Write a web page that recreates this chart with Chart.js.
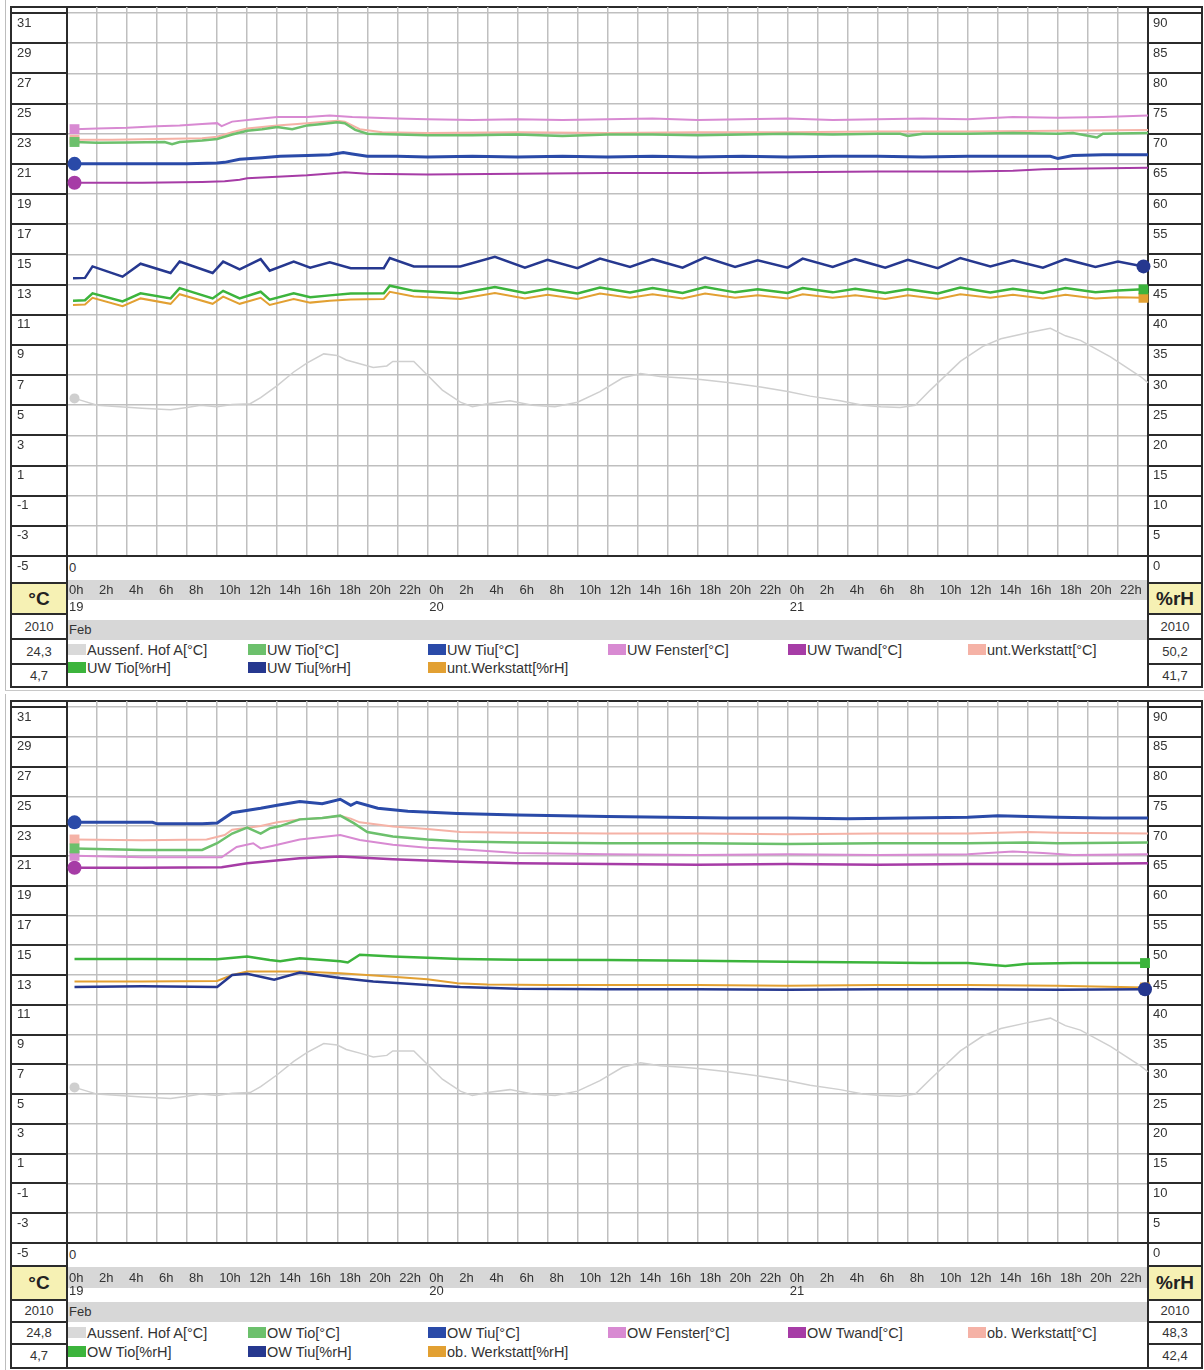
<!DOCTYPE html>
<html>
<head>
<meta charset="utf-8">
<script src="https://cdn.jsdelivr.net/npm/chart.js@4.4.1/dist/chart.umd.min.js"></script>
<style>
  body { margin: 0; background: #fff; font-family: "Liberation Sans", Arial, sans-serif; color: #333; }
  canvas { position: absolute; left: 0; }
</style>
</head>
<body>
<script>
// axis ticks
const hourTicks = [0, 2, 4, 6, 8, 10, 12, 14, 16, 18, 20, 22, 24, 26, 28, 30, 32, 34, 36, 38, 40, 42, 44, 46, 48, 50, 52, 54, 56, 58, 60, 62, 64, 66, 68, 70, 72];
const dayLabels = ['19', '20', '21'];
const tempTicks = [-5, -3, -1, 1, 3, 5, 7, 9, 11, 13, 15, 17, 19, 21, 23, 25, 27, 29, 31];
const rhTicks = [0, 5, 10, 15, 20, 25, 30, 35, 40, 45, 50, 55, 60, 65, 70, 75, 80, 85, 90];

// outdoor sensor (same in both panels), hours since 19 Feb 0h
const aussenH = [0.5, 1, 2, 3.5, 5, 6.9, 8, 8.9, 10, 11, 12.2, 12.9, 14, 15.1, 16, 17.1, 18, 18.6, 19.5, 20.4, 21.3, 21.7, 23.1, 24, 25, 26.2, 27, 28, 29.5, 31, 32.5, 34, 35.5, 37, 38.2, 39.5, 41, 42.2, 44, 46.2, 48, 49.5, 51.5, 53, 54.2, 55.5, 56.5, 57.5, 59.5, 61, 62.2, 64, 65.5, 66.5, 67.5, 69.5, 71.5, 72];
const aussenV = [5.45, 5.3, 5.0, 4.9, 4.8, 4.7, 4.85, 5.0, 4.9, 5.05, 5.1, 5.5, 6.3, 7.2, 7.8, 8.4, 8.3, 8.0, 7.75, 7.5, 7.6, 7.9, 7.9, 7.0, 6.0, 5.2, 4.9, 5.1, 5.3, 5.0, 4.9, 5.2, 5.9, 6.8, 7.1, 6.9, 6.8, 6.7, 6.5, 6.2, 5.9, 5.6, 5.3, 5.0, 4.9, 4.85, 5.0, 6.0, 7.9, 8.9, 9.4, 9.8, 10.1, 9.6, 9.3, 8.2, 6.9, 6.5];

// upper chart (UW / unt. Werkstatt)
const uwTioTH = [0.5, 2, 4, 6.5, 7, 7.5, 9, 10, 11, 12, 13, 14, 15, 16, 17, 18, 18.5, 19.2, 20, 22, 24, 27, 30, 33, 36, 39, 42, 45, 48, 51, 54, 55.5, 56, 57, 60, 63, 66, 67, 68.6, 69, 72];
const uwTioTV = [22.45, 22.4, 22.42, 22.45, 22.3, 22.45, 22.55, 22.65, 22.95, 23.2, 23.3, 23.45, 23.3, 23.55, 23.65, 23.75, 23.7, 23.25, 23.0, 22.95, 22.9, 22.9, 22.95, 22.85, 22.95, 22.95, 22.9, 22.95, 23.0, 22.95, 23.0, 23.0, 22.85, 23.0, 23.0, 23.05, 23.0, 23.05, 22.75, 23.0, 23.05];
const uwTiuTH = [0.5, 4, 8, 10, 10.5, 11.5, 13, 14.2, 16, 17.5, 18.4, 19, 20, 22, 24, 27, 30, 33, 36, 39, 42, 45, 48, 51, 54, 57, 60, 63, 65.5, 66, 67, 69, 72];
const uwTiuTV = [21.0, 21.0, 21.0, 21.05, 21.1, 21.3, 21.4, 21.5, 21.55, 21.6, 21.75, 21.65, 21.5, 21.5, 21.45, 21.5, 21.45, 21.5, 21.45, 21.5, 21.45, 21.5, 21.45, 21.5, 21.5, 21.45, 21.5, 21.5, 21.5, 21.35, 21.55, 21.6, 21.6];
const uwFensterH = [0.5, 2, 4, 6, 7.5, 9, 10, 10.3, 11, 12.5, 14, 16, 17.5, 19, 20.5, 22, 24, 27, 30, 33, 36, 39, 42, 45, 48, 51, 54, 57, 60, 63, 66, 69, 72];
const uwFensterV = [23.3, 23.35, 23.4, 23.5, 23.55, 23.65, 23.7, 23.5, 23.8, 23.95, 24.1, 24.1, 24.2, 24.1, 24.05, 24.0, 23.95, 23.9, 23.95, 23.9, 23.95, 24.0, 23.9, 23.95, 24.0, 23.9, 23.95, 24.0, 23.95, 24.1, 24.05, 24.1, 24.2];
const uwTwandH = [0.5, 5, 9, 10.5, 11.5, 12, 14, 16, 18, 18.5, 20, 24, 30, 36, 42, 48, 54, 60, 63, 65, 68, 72];
const uwTwandV = [19.75, 19.75, 19.8, 19.85, 19.95, 20.05, 20.15, 20.25, 20.4, 20.45, 20.35, 20.3, 20.35, 20.4, 20.4, 20.45, 20.5, 20.5, 20.55, 20.65, 20.7, 20.75];
const untWerkTH = [0.5, 3, 6, 9, 10, 11, 12, 14, 16, 18, 18.5, 19.5, 21, 24, 30, 36, 42, 48, 54, 60, 66, 72];
const untWerkTV = [22.6, 22.6, 22.65, 22.7, 22.8, 23.1, 23.35, 23.55, 23.7, 23.85, 23.8, 23.3, 23.1, 23.05, 23.1, 23.05, 23.1, 23.1, 23.15, 23.15, 23.2, 23.25];
const uwRhH = [0.4, 1.2, 1.7, 3.7, 4.9, 6.9, 7.5, 9.7, 10.4, 11.5, 12.9, 13.5, 15.1, 16.2, 17.5, 18.9, 21.1, 21.5, 23.1, 26.2, 28.5, 30.5, 32, 34, 35.5, 37.5, 39, 41, 42.5, 44.5, 46, 48, 49, 51, 52.5, 54.5, 56, 58, 59.5, 61.5, 63, 65, 66.5, 68.5, 70, 71.7];
const uwTiuRhV = [46.05, 46.1, 48.0, 46.3, 48.45, 46.9, 48.8, 46.9, 48.8, 47.5, 49.2, 47.3, 48.8, 47.8, 48.7, 47.7, 47.7, 49.4, 48.0, 48.0, 49.6, 47.8, 49.1, 47.7, 49.3, 47.9, 49.2, 47.8, 49.5, 47.9, 49.0, 47.8, 49.3, 47.9, 49.2, 47.8, 49.1, 47.7, 49.4, 48.0, 49.0, 47.8, 49.2, 47.9, 48.8, 48.0];
const uwTioRhV = [42.3, 42.4, 43.55, 42.2, 43.55, 42.7, 44.4, 42.7, 43.95, 42.7, 43.8, 42.5, 43.55, 42.9, 43.2, 43.5, 43.55, 44.8, 43.95, 43.55, 44.6, 43.6, 44.3, 43.5, 44.5, 43.7, 44.4, 43.6, 44.6, 43.7, 44.2, 43.6, 44.4, 43.7, 44.3, 43.6, 44.2, 43.5, 44.5, 43.7, 44.3, 43.6, 44.4, 43.7, 44.0, 44.2];
const untWerkRhV = [41.6, 41.7, 42.8, 41.4, 42.7, 41.8, 43.4, 41.8, 43.0, 41.8, 42.8, 41.6, 42.6, 42.0, 42.3, 42.5, 42.6, 43.8, 43.0, 42.6, 43.6, 42.7, 43.3, 42.6, 43.5, 42.8, 43.4, 42.7, 43.5, 42.8, 43.2, 42.7, 43.4, 42.8, 43.2, 42.6, 43.2, 42.6, 43.4, 42.8, 43.3, 42.7, 43.3, 42.7, 42.9, 42.8];

// lower chart (OW / ob. Werkstatt)
const owTioTH = [0.5, 5, 9, 10, 11, 12, 12.9, 13.5, 14.2, 15.5, 17, 18.2, 19.1, 20, 21.7, 24, 26.2, 30, 36, 42, 48, 54, 60, 64, 66, 72];
const owTioTV = [21.5, 21.4, 21.4, 21.85, 22.5, 22.9, 22.5, 22.85, 23.0, 23.45, 23.55, 23.7, 23.2, 22.6, 22.3, 22.1, 21.96, 21.9, 21.85, 21.85, 21.8, 21.85, 21.85, 21.9, 21.85, 21.9];
const owTiuTH = [0.5, 3, 5.7, 6, 9, 10, 11, 12.9, 14, 15.5, 17, 18.2, 18.9, 19.3, 20.7, 22.7, 26, 30, 33, 36, 40, 44, 48, 52, 56, 60, 62, 64, 66, 69, 72];
const owTiuTV = [23.25, 23.25, 23.25, 23.15, 23.15, 23.2, 23.9, 24.2, 24.4, 24.65, 24.5, 24.8, 24.4, 24.6, 24.2, 24.0, 23.85, 23.75, 23.7, 23.65, 23.6, 23.55, 23.55, 23.5, 23.55, 23.6, 23.7, 23.65, 23.6, 23.55, 23.55];
const owFensterH = [0.5, 5, 10.3, 11.3, 12.4, 12.9, 13.8, 15.5, 18.2, 19.5, 21.7, 24, 26.2, 30, 36, 42, 48, 54, 60, 63, 65, 67, 72];
const owFensterV = [21.0, 20.9, 20.9, 21.6, 21.85, 21.5, 21.7, 22.1, 22.4, 22.07, 21.74, 21.55, 21.45, 21.2, 21.1, 21.05, 21.1, 21.05, 21.1, 21.3, 21.2, 21.05, 21.1];
const owTwandH = [0.5, 5, 10.3, 12, 15.5, 18.2, 21.7, 26.2, 30, 36, 42, 48, 54, 60, 66, 72];
const owTwandV = [20.2, 20.2, 20.24, 20.5, 20.84, 20.95, 20.77, 20.6, 20.5, 20.45, 20.4, 20.45, 20.4, 20.45, 20.45, 20.5];
const obWerkTH = [0.5, 5, 9.3, 10.5, 11, 12.9, 14, 15.5, 17, 18.2, 18.9, 19.5, 21.7, 24, 26.2, 30, 36, 42, 48, 54, 60, 64, 66, 72];
const obWerkTV = [22.1, 22.05, 22.1, 22.4, 22.75, 23.0, 23.25, 23.45, 23.55, 23.7, 23.5, 23.25, 22.97, 22.8, 22.6, 22.55, 22.5, 22.5, 22.45, 22.5, 22.5, 22.6, 22.55, 22.5];
const owTioRhH = [0.5, 5, 10, 12, 13.5, 14.2, 15.5, 18.2, 18.7, 19.5, 21.7, 24, 26.2, 30, 36, 42, 48, 54, 57, 60, 62.5, 64, 67, 71.8];
const owTioRhV = [47.7, 47.7, 47.65, 48.1, 47.5, 47.3, 47.8, 47.3, 47.1, 48.4, 48.1, 47.9, 47.7, 47.55, 47.5, 47.4, 47.2, 47.1, 47.0, 47.0, 46.5, 46.9, 47.0, 47.0];
const owTiuRhH = [0.5, 5, 10, 11, 12, 13.8, 15.5, 18.2, 20.4, 24, 26.2, 30, 36, 42, 48, 54, 60, 66, 71.8];
const owTiuRhV = [43.0, 43.1, 43.0, 45.0, 45.2, 44.2, 45.4, 44.5, 43.9, 43.3, 43.0, 42.7, 42.6, 42.6, 42.5, 42.6, 42.6, 42.5, 42.6];
const obWerkRhH = [0.5, 5, 10, 11, 12, 15.5, 18.2, 21.7, 24, 26, 28, 32, 36, 42, 48, 54, 60, 66, 71.8];
const obWerkRhV = [43.9, 43.9, 44.0, 45.0, 45.6, 45.6, 45.3, 44.7, 44.3, 43.6, 43.4, 43.3, 43.3, 43.3, 43.2, 43.3, 43.3, 43.2, 42.9];

const colors = {
  aussen: '#cfcfcf', tioT: '#6cc06c', tiuT: '#2a4aa8', fenster: '#d88ad2', twand: '#a63ca6',
  werkT: '#f5b2a6', tioRh: '#3cb43c', tiuRh: '#26388f', werkRh: '#e2a032'
};

function series(name, hours, values, axis, color, shape, mark, width) {
  return { name, hours, values, axis, color, shape, mark, width };
}

const panels = [
  {
    top: 7, bottom: 556, frameBottom: 687, zeroY: 568, hourBand: [580, 600], hourY: 590, lineH: 17,
    monthBand: [620, 640], sep: [583, 614, 639, 664], legendY: [650, 668],
    cells: ['24,3', '4,7', '50,2', '41,7'],
    series: [
      series('Aussenf. Hof A[°C]', aussenH, aussenV, 'y', colors.aussen, 'circle', 5, 1.5),
      series('UW Tio[°C]', uwTioTH, uwTioTV, 'y', colors.tioT, 'rect', 7, 2.5),
      series('UW Tiu[°C]', uwTiuTH, uwTiuTV, 'y', colors.tiuT, 'circle', 7, 3),
      series('UW Fenster[°C]', uwFensterH, uwFensterV, 'y', colors.fenster, 'rect', 7, 2),
      series('UW Twand[°C]', uwTwandH, uwTwandV, 'y', colors.twand, 'circle', 7, 2),
      series('unt.Werkstatt[°C]', untWerkTH, untWerkTV, 'y', colors.werkT, 'rect', 7, 2),
      series('UW Tio[%rH]', uwRhH, uwTioRhV, 'rh', colors.tioRh, 'rect', 7, 2.5),
      series('UW Tiu[%rH]', uwRhH, uwTiuRhV, 'rh', colors.tiuRh, 'circle', 7, 2.5),
      series('unt.Werkstatt[%rH]', uwRhH, untWerkRhV, 'rh', colors.werkRh, 'rect', 7, 2)
    ]
  },
  {
    top: 701, bottom: 1243, frameBottom: 1368, zeroY: 1255, hourBand: [1267, 1288], hourY: 1278, lineH: 13.5,
    monthBand: [1302, 1322], sep: [1266, 1300, 1322, 1344], legendY: [1333, 1352],
    cells: ['24,8', '4,7', '48,3', '42,4'],
    series: [
      series('Aussenf. Hof A[°C]', aussenH, aussenV, 'y', colors.aussen, 'circle', 5, 1.5),
      series('OW Tio[°C]', owTioTH, owTioTV, 'y', colors.tioT, 'rect', 7, 2.5),
      series('OW Tiu[°C]', owTiuTH, owTiuTV, 'y', colors.tiuT, 'circle', 7, 3),
      series('OW Fenster[°C]', owFensterH, owFensterV, 'y', colors.fenster, 'rect', 7, 2),
      series('OW Twand[°C]', owTwandH, owTwandV, 'y', colors.twand, 'circle', 7, 2.5),
      series('ob. Werkstatt[°C]', obWerkTH, obWerkTV, 'y', colors.werkT, 'rect', 7, 2),
      series('OW Tio[%rH]', owTioRhH, owTioRhV, 'rh', colors.tioRh, 'rect', 7, 2.5),
      series('OW Tiu[%rH]', owTiuRhH, owTiuRhV, 'rh', colors.tiuRh, 'circle', 7, 2.5),
      series('ob. Werkstatt[%rH]', obWerkRhH, obWerkRhV, 'rh', colors.werkRh, 'rect', 7, 2)
    ]
  }
];

const LINE = '#2b2b2b';
const FONT = '"Liberation Sans", Arial, sans-serif';

function el(x, y, w, h, css, text) {
  const d = document.createElement('div');
  d.style.cssText = `position:absolute;left:${x}px;top:${y}px;width:${w}px;height:${h}px;${css || ''}`;
  if (text != null) d.textContent = text;
  document.body.appendChild(d);
  return d;
}

function textCell(x, y, w, h, text, css) {
  return el(x, y, w, h, `line-height:${h}px;text-align:center;font-size:13px;white-space:nowrap;${css || ''}`, text);
}

// cell separators in the side columns, one per y tick
const axisCells = {
  id: 'axisCells',
  afterDraw(chart) {
    const { ctx, chartArea, scales } = chart;
    ctx.save();
    ctx.strokeStyle = LINE;
    ctx.lineWidth = 2;
    ctx.beginPath();
    for (const t of scales.y.ticks) {
      const p = Math.round(scales.y.getPixelForValue(t.value));
      ctx.moveTo(11, p); ctx.lineTo(chartArea.left, p);
    }
    for (const t of scales.rh.ticks) {
      const p = Math.round(scales.rh.getPixelForValue(t.value));
      ctx.moveTo(chartArea.right, p); ctx.lineTo(1202, p);
    }
    ctx.stroke();
    ctx.restore();
  }
};

function drawFrame(p) {
  const { top, bottom, frameBottom: fb, sep } = p;
  // window edge
  el(5, top - 7, 1, fb - top + 10, 'background:#bdbdbd');
  el(5, fb + 3, 1199, 1, 'background:#c8c8c8');
  // grey bands below the plot
  el(68, p.hourBand[0], 1080, p.hourBand[1] - p.hourBand[0], 'background:#d7d7d7');
  el(68, p.monthBand[0], 1080, p.monthBand[1] - p.monthBand[0], 'background:#d7d7d7');
  // outer and column borders
  el(10, top - 1, 1193, 2, `background:${LINE}`);
  el(10, fb - 1, 1193, 2, `background:${LINE}`);
  el(10, top - 1, 2, fb - top + 2, `background:${LINE}`);
  el(66, top - 1, 2, fb - top + 2, `background:${LINE}`);
  el(1147, top - 1, 2, fb - top + 2, `background:${LINE}`);
  el(1201, top - 1, 2, fb - top + 2, `background:${LINE}`);
  el(10, bottom - 1, 1193, 2, `background:${LINE}`);
  for (const s of sep) {
    el(10, s - 1, 57, 2, `background:${LINE}`);
    el(1147, s - 1, 55, 2, `background:${LINE}`);
  }
  // unit cells
  el(12, sep[0] + 1, 54, sep[1] - sep[0] - 2, 'background:#f6f1b4');
  el(1149, sep[0] + 1, 52, sep[1] - sep[0] - 2, 'background:#f6f1b4');
  textCell(12, sep[0], 54, sep[1] - sep[0], '°C', 'font-size:19px;font-weight:bold;color:#222');
  textCell(1149, sep[0], 52, sep[1] - sep[0], '%rH', 'font-size:19px;font-weight:bold;color:#222');
  textCell(12, sep[1], 54, sep[2] - sep[1], '2010');
  textCell(1149, sep[1], 52, sep[2] - sep[1], '2010');
  textCell(12, sep[2], 54, sep[3] - sep[2], p.cells[0]);
  textCell(12, sep[3], 54, fb - sep[3], p.cells[1]);
  textCell(1149, sep[2], 52, sep[3] - sep[2], p.cells[2]);
  textCell(1149, sep[3], 52, fb - sep[3], p.cells[3]);
  // row texts
  textCell(69, p.zeroY - 8, 20, 16, '0', 'text-align:left');
  textCell(69, (p.monthBand[0] + p.monthBand[1]) / 2 - 8, 40, 16, 'Feb', 'text-align:left');
  // legend
  const colX = [68, 248, 428, 608, 788, 968];
  p.series.forEach((s, i) => {
    const row = i < 6 ? 0 : 1;
    const x = colX[row ? i - 6 : i];
    const y = p.legendY[row];
    el(x, y - 6, 18, 11, `background:${s.color === colors.aussen ? '#d9d9d9' : s.color}`);
    textCell(x + 19, y - 8, 160, 16, s.name, 'text-align:left;font-size:14.5px');
  });
}

function drawChart(p) {
  const canvas = document.createElement('canvas');
  const h = p.bottom - p.top + 60;
  canvas.width = 1204;
  canvas.height = h;
  canvas.style.top = p.top + 'px';
  document.body.appendChild(canvas);

  const tickFont = { family: FONT, size: 13 };
  return new Chart(canvas, {
    type: 'line',
    data: {
      datasets: p.series.map(s => ({
        label: s.name,
        data: s.hours.map((hr, i) => ({ x: hr, y: s.values[i] })),
        yAxisID: s.axis,
        borderColor: s.color,
        backgroundColor: s.color,
        pointBackgroundColor: s.color,
        borderWidth: s.width,
        pointBorderWidth: 0,
        pointStyle: s.shape,
        pointRadius: ctx => ctx.dataIndex === (s.axis === 'y' ? 0 : s.hours.length - 1) ? s.mark : 0,
        pointHoverRadius: 0,
        tension: 0,
        clip: false
      }))
    },
    options: {
      responsive: false,
      animation: false,
      events: [],
      layout: { autoPadding: false, padding: { left: 17, right: 4, top: 0, bottom: 0 } },
      plugins: { legend: { display: false }, tooltip: { enabled: false } },
      scales: {
        x: {
          type: 'linear',
          min: 0,
          max: 72,
          afterBuildTicks: ax => { ax.ticks = hourTicks.map(v => ({ value: v })); },
          afterFit: ax => { ax.height = 60; ax.paddingLeft = 0; ax.paddingRight = 0; },
          grid: { color: '#bfbfbf', lineWidth: 1.5, drawTicks: false },
          border: { color: LINE, width: 2 },
          ticks: {
            autoSkip: false,
            maxRotation: 0,
            align: 'start',
            labelOffset: 2,
            padding: p.hourY - p.bottom - p.lineH / 2,
            color: '#333',
            font: { family: FONT, size: 13, lineHeight: p.lineH + 'px' },
            callback: v => {
              if (v >= 72) return '';
              const hr = v % 24;
              return hr === 0 ? [hr + 'h', dayLabels[v / 24]] : hr + 'h';
            }
          }
        },
        y: {
          position: 'left',
          min: -5,
          max: 31.4,
          afterBuildTicks: ax => { ax.ticks = tempTicks.map(v => ({ value: v })); },
          afterFit: ax => { ax.width = 50; ax.paddingTop = 0; ax.paddingBottom = 0; },
          grid: { color: '#bfbfbf', lineWidth: 1.5, drawTicks: false },
          border: { color: LINE, width: 2 },
          ticks: { crossAlign: 'far', labelOffset: 10, color: '#333', font: tickFont }
        },
        rh: {
          position: 'right',
          min: 0,
          max: 91,
          afterBuildTicks: ax => { ax.ticks = rhTicks.map(v => ({ value: v })); },
          afterFit: ax => { ax.width = 52; ax.paddingTop = 0; ax.paddingBottom = 0; },
          grid: { drawOnChartArea: false, drawTicks: false },
          border: { color: LINE, width: 2 },
          ticks: { crossAlign: 'near', padding: 5, labelOffset: 10, color: '#333', font: tickFont }
        }
      }
    },
    plugins: [axisCells]
  });
}

for (const p of panels) {
  drawFrame(p);
  drawChart(p);
}
</script>
</body>
</html>
